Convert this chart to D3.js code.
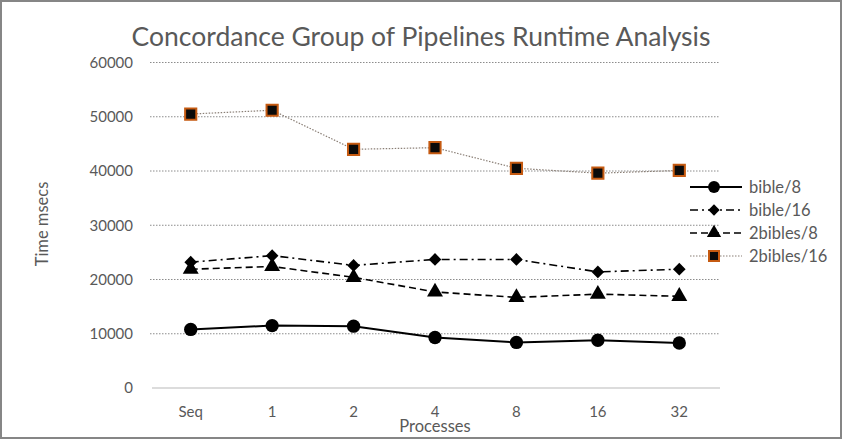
<!DOCTYPE html>
<html>
<head>
<meta charset="utf-8">
<script src="https://cdn.jsdelivr.net/npm/d3@7"></script>
<style>
  body { margin: 0; background: #fff; }
  svg { display: block; }
  text { font-family: Lato, "Open Sans", sans-serif; fill: #595959; }
</style>
</head>
<body>
<svg width="842" height="439"></svg>
<script>
const processes = ["Seq", "1", "2", "4", "8", "16", "32"];
const yTicks = [0, 10000, 20000, 30000, 40000, 50000, 60000];

const bible8 = [10800, 11500, 11400, 9300, 8400, 8800, 8300];
const bible16 = [23200, 24400, 22600, 23700, 23700, 21400, 21900];
const bibles2x8 = [21900, 22400, 20400, 17700, 16700, 17300, 16900];
const bibles2x16 = [50500, 51200, 44000, 44300, 40500, 39600, 40100];

const seriesNames = ["bible/8", "bible/16", "2bibles/8", "2bibles/16"];

const width = 842;
const height = 439;
const svg = d3.select("svg");

// outer frame
svg.append("rect")
  .attr("x", 1).attr("y", 1)
  .attr("width", width - 2).attr("height", height - 2)
  .attr("fill", "#fff")
  .attr("stroke", "#868686")
  .attr("stroke-width", 2);

const x = d3.scaleBand().domain(processes).range([150, 720]);
const y = d3.scaleLinear().domain([0, 60000]).range([388, 62.5]);
const cx = (d) => x(d) + x.bandwidth() / 2;

// dotted gridlines
svg.append("g")
  .selectAll("line")
  .data(yTicks.filter((t) => t > 0))
  .join("line")
  .attr("x1", 150).attr("x2", 720)
  .attr("y1", (d) => y(d)).attr("y2", (d) => y(d))
  .attr("stroke", "#8c8c8c")
  .attr("stroke-width", 1)
  .attr("stroke-dasharray", "1.5,1.5");

// zero axis
svg.append("line")
  .attr("x1", 152).attr("x2", 720)
  .attr("y1", y(0)).attr("y2", y(0))
  .attr("stroke", "#d0d0d0")
  .attr("stroke-width", 1.5);

// y tick labels
svg.append("g")
  .selectAll("text")
  .data(yTicks)
  .join("text")
  .attr("x", 133)
  .attr("y", (d) => y(d))
  .attr("dy", "0.35em")
  .attr("text-anchor", "end")
  .attr("font-size", 15)
  .text((d) => d);

// x tick labels
svg.append("g")
  .selectAll("text")
  .data(processes)
  .join("text")
  .attr("x", (d) => cx(d))
  .attr("y", 417)
  .attr("text-anchor", "middle")
  .attr("font-size", 15)
  .text((d) => d);

// titles
svg.append("text")
  .attr("x", 421).attr("y", 46)
  .attr("text-anchor", "middle")
  .attr("font-size", 26.5)
  .text("Concordance Group of Pipelines Runtime Analysis");

svg.append("text")
  .attr("x", 435).attr("y", 432)
  .attr("text-anchor", "middle")
  .attr("font-size", 16.5)
  .text("Processes");

svg.append("text")
  .attr("transform", "translate(48,224) rotate(-90)")
  .attr("text-anchor", "middle")
  .attr("font-size", 16.5)
  .text("Time msecs");

// marker shapes
const markers = [
  { sym: d3.symbolCircle, size: 140, rot: 0, fill: "#000", stroke: "none" },
  { sym: d3.symbolSquare, size: 80, rot: 45, fill: "#000", stroke: "none" },
  { sym: d3.symbolTriangle, size: 110, rot: 0, fill: "#000", stroke: "none" },
  { sym: d3.symbolSquare, size: 125, rot: 0, fill: "#0a0a0a", stroke: "#c55a11" }
];
const lineStyles = [
  { color: "#000", width: 2, dash: null },
  { color: "#000", width: 1.6, dash: "8,4,2,4" },
  { color: "#000", width: 1.6, dash: "7,4" },
  { color: "#8a7f76", width: 1.2, dash: "1.5,1.5" }
];

const allSeries = [bible8, bible16, bibles2x8, bibles2x16];
const line = d3.line()
  .x((d, i) => cx(processes[i]))
  .y((d) => y(d));

const drawOrder = [3, 2, 1, 0];
drawOrder.forEach((k) => {
  const s = allSeries[k];
  const ls = lineStyles[k];
  const mk = markers[k];
  svg.append("path")
    .datum(s)
    .attr("d", line)
    .attr("fill", "none")
    .attr("stroke", ls.color)
    .attr("stroke-width", ls.width)
    .attr("stroke-dasharray", ls.dash);
  svg.append("g")
    .selectAll("path")
    .data(s)
    .join("path")
    .attr("transform", (d, i) => `translate(${cx(processes[i])},${y(d)}) rotate(${mk.rot})`)
    .attr("d", d3.symbol(mk.sym, mk.size))
    .attr("fill", mk.fill)
    .attr("stroke", mk.stroke)
    .attr("stroke-width", 2);
});

// legend
const legend = svg.append("g");
seriesNames.forEach((name, k) => {
  const ly = 187 + k * 23;
  const ls = lineStyles[k];
  const mk = markers[k];
  legend.append("line")
    .attr("x1", 690).attr("x2", 742)
    .attr("y1", ly).attr("y2", ly)
    .attr("stroke", ls.color)
    .attr("stroke-width", ls.width)
    .attr("stroke-dasharray", ls.dash);
  legend.append("path")
    .attr("transform", `translate(714,${ly}) rotate(${mk.rot})`)
    .attr("d", d3.symbol(mk.sym, mk.size * 0.8))
    .attr("fill", mk.fill)
    .attr("stroke", mk.stroke)
    .attr("stroke-width", 2);
  legend.append("text")
    .attr("x", 749)
    .attr("y", ly)
    .attr("dy", "0.35em")
    .attr("font-size", 16.5)
    .text(name);
});
</script>
</body>
</html>
